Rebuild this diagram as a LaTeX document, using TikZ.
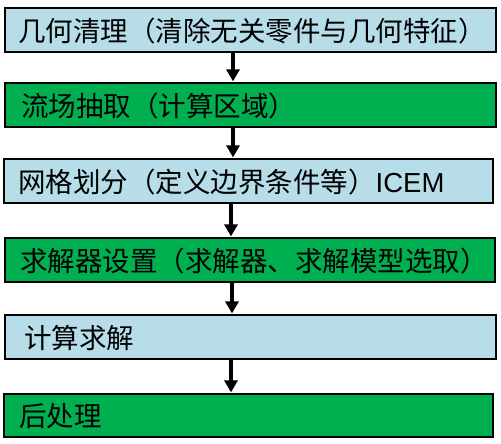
\documentclass[tikz,border=0pt]{standalone}
\usepackage{fontspec}
\setmainfont{Liberation Sans}
\newfontfamily\cjk{Noto Sans CJK SC}
\usetikzlibrary{arrows.meta}
\definecolor{lblue}{RGB}{183,222,232}
\definecolor{dgreen}{RGB}{0,176,80}
\tikzset{
  x=1pt,y=-1pt,
  stepbox/.style={draw=black,line width=1.2pt,rectangle,inner sep=0pt,minimum height=44pt},
  lbl/.style={anchor=west,inner sep=0pt,font=\fontsize{27.5}{31}\selectfont},
  conn/.style={line width=4pt,-{Triangle[width=13pt,length=12pt]}}
}
\begin{document}
\begin{tikzpicture}
\useasboundingbox (0,0) rectangle (501,444);
\fill[white] (0,0) rectangle (501,444);
% boxes
\node[stepbox,fill=lblue,minimum width=491pt] (b1) at (250.5,30) {};
\node[stepbox,fill=dgreen,minimum width=491pt] (b2) at (250.5,105) {};
\node[stepbox,fill=lblue,minimum width=489pt] (b3) at (248.5,181) {};
\node[stepbox,fill=dgreen,minimum width=490pt] (b4) at (250,260) {};
\node[stepbox,fill=lblue,minimum width=491pt] (b5) at (250.5,337) {};
\node[stepbox,fill=dgreen,minimum width=489pt,minimum height=43pt] (b6) at (248.5,415.5) {};
% labels
\node[lbl] (t1) at (18,31) {\cjk 几何清理（清除无关零件与几何特征）};
\node[lbl] (t2) at (21,106) {\cjk 流场抽取（计算区域）};
\node[lbl] (t3) at (18,182) {{\cjk 网格划分（定义边界条件等）}ICEM};
\node[lbl] (t4) at (20,261) {\cjk 求解器设置（求解器、求解模型选取）};
\node[lbl] (t5) at (24,338) {\cjk 计算求解};
\node[lbl] (t6) at (19,416) {\cjk 后处理};
% arrows
\draw[conn] ([xshift=-17.5pt]b1.south) -- ([xshift=-17.5pt,yshift=1pt]b2.north);
\draw[conn] ([xshift=-17.5pt]b2.south) -- ([xshift=-15.5pt,yshift=1pt]b3.north);
\draw[conn] ([xshift=-17.5pt]b3.south) -- ([xshift=-19pt,yshift=1pt]b4.north);
\draw[conn] ([xshift=-18pt]b4.south) -- ([xshift=-18.5pt,yshift=1pt]b5.north);
\draw[conn] ([xshift=-19.5pt]b5.south) -- ([xshift=-17.5pt,yshift=1pt]b6.north);
\end{tikzpicture}
\end{document}
